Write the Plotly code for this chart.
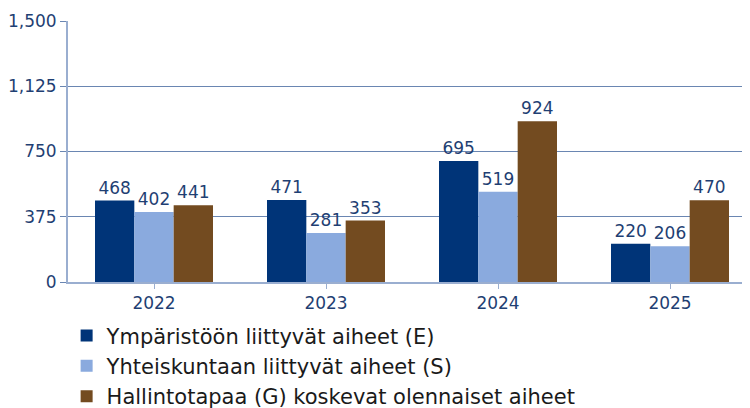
import plotly.graph_objects as go

years = ["2022", "2023", "2024", "2025"]
series_names = [
    "Ympäristöön liittyvät aiheet (E)",
    "Yhteiskuntaan liittyvät aiheet (S)",
    "Hallintotapaa (G) koskevat olennaiset aiheet",
]
values_e = [468, 471, 695, 220]
values_s = [402, 281, 519, 206]
values_g = [441, 353, 924, 470]
colors = ["#003478", "#8aaade", "#734b20"]
y_ticks = [0, 375, 750, 1125, 1500]

label_color = "#1f3f73"
fig = go.Figure()
for name, vals, col in zip(series_names, [values_e, values_s, values_g], colors):
    fig.add_trace(go.Bar(
        x=years, y=vals, name=name,
        marker=dict(color=col, line=dict(width=0)),
        text=[str(v) for v in vals], textposition="outside",
        textfont=dict(size=17, color=label_color, family="DejaVu Sans"),
        cliponaxis=False,
    ))

fig.update_layout(
    width=750, height=408,
    margin=dict(l=60, r=2, t=13, b=134, autoexpand=False),
    paper_bgcolor="white", plot_bgcolor="white",
    barmode="group", bargap=0.314, bargroupgap=0,
    font=dict(family="DejaVu Sans", color=label_color, size=17),
    legend=dict(
        orientation="v", x=-0.002, xanchor="left", y=-0.128, yanchor="top",
        font=dict(size=21, color="#1a1a1a", family="DejaVu Sans"),
        bgcolor="rgba(0,0,0,0)", traceorder="normal",
    ),
)
fig.update_xaxes(
    showline=True, linecolor="#9aaed0", linewidth=2,
    ticks="outside", ticklen=5, tickcolor="#9aaed0",
    tickfont=dict(size=17, color=label_color), range=[-0.5, 3.5],
    automargin=False,
)
fig.update_yaxes(
    range=[0, 1500], tickvals=y_ticks, tickformat=",",
    showgrid=True, gridcolor="#6a86b2", gridwidth=1.3,
    showline=True, linecolor="#9aaed0", linewidth=2,
    ticks="outside", ticklen=6, tickcolor="#6a86b2",
    tickfont=dict(size=17, color=label_color), zeroline=False,
    automargin=False,
)

fig.write_html("out.html")
